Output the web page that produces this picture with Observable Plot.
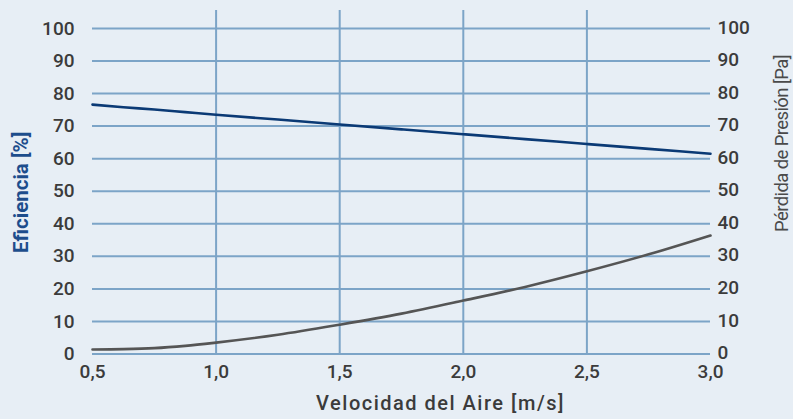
<!DOCTYPE html>
<html><head><meta charset="utf-8">
<script src="https://cdn.jsdelivr.net/npm/d3@7"></script>
<script src="https://cdn.jsdelivr.net/npm/@observablehq/plot@0.6"></script>
<style>
html,body{margin:0;padding:0;background:#e7eef5;}
#chart svg{display:block;}
</style>
</head><body><div id="chart"></div>
<script>
const velocity = [0.5, 0.625, 0.75, 0.875, 1.0, 1.25, 1.5, 1.75, 2.0, 2.25, 2.5, 2.75, 3.0];
const efficiency = [76.6, 75.8, 75.1, 74.3, 73.5, 72.0, 70.5, 69.0, 67.5, 66.0, 64.5, 63.0, 61.5];
const pressure = [1.4, 1.5, 1.8, 2.5, 3.5, 5.9, 9.0, 12.4, 16.4, 20.6, 25.4, 30.6, 36.4];
const xTicks = [0.5, 1.0, 1.5, 2.0, 2.5, 3.0];
const xGrid = [1.0, 1.5, 2.0, 2.5];
const yTicks = [0, 10, 20, 30, 40, 50, 60, 70, 80, 90, 100];
const xTitle = "Velocidad del Aire [m/s]";
const yLeftTitle = "Eficiencia [%]";
const yRightTitle = "Pérdida de Presión [Pa]";

const effData = velocity.map((v, i) => ({v, y: efficiency[i]}));
const presData = velocity.map((v, i) => ({v, y: pressure[i]}));
const fmt = d => d.toFixed(1).replace(".", ",");
const font = "Roboto, 'DejaVu Sans', sans-serif";

const chart = Plot.plot({
  width: 793, height: 419,
  marginLeft: 92, marginRight: 83, marginTop: 10, marginBottom: 65.5,
  style: {background: "#e7eef5", fontFamily: font, fontSize: "18px", color: "#3b3b3b", fontWeight: 500},
  x: {domain: [0.5, 3.0]},
  y: {domain: [0, 105.5]},
  marks: [
    Plot.ruleY(yTicks, {stroke: "#7ca4c7", strokeWidth: 2, x1: 0.5, x2: 3.0}),
    Plot.ruleX(xGrid, {stroke: "#7ca4c7", strokeWidth: 2}),
    Plot.axisX(xTicks, {tickSize: 0, tickPadding: 10, tickFormat: fmt, fontSize: 19, fill: "#3b3b3b", label: null}),
    Plot.axisY(yTicks, {anchor: "left", tickSize: 0, tickPadding: 18, fontSize: 19, fill: "#3b3b3b", label: null}),
    Plot.axisY(yTicks, {anchor: "right", tickSize: 0, tickPadding: 7, dy: -1, fontSize: 19, fill: "#3b3b3b", label: null}),
    Plot.text([xTitle], {text: d => d, frameAnchor: "bottom", dx: 39, dy: 55.5, fontSize: 20, fill: "#3b3b3b", textAnchor: "middle"}),
    Plot.text([yLeftTitle], {text: d => d, frameAnchor: "left", dx: -71, dy: 10, rotate: -90, fontSize: 20.5, fill: "#1d4d8c", textAnchor: "middle", fontWeight: 700}),
    Plot.text([yRightTitle], {text: d => d, frameAnchor: "right", dx: 72, dy: -38.75, rotate: -90, fontSize: 17, fill: "#4a4a4a", textAnchor: "middle", fontWeight: 500}),
    Plot.line(presData, {x: "v", y: "y", stroke: "#555555", strokeWidth: 2.6, curve: "monotone-x"}),
    Plot.line(effData, {x: "v", y: "y", stroke: "#0b3a75", strokeWidth: 2.6, curve: "monotone-x"})
  ]
});
document.getElementById("chart").appendChild(chart);
const sel = d3.select(chart).selectAll("text");
sel.filter(function() { return d3.select(this).text() === xTitle; }).style("letter-spacing", "1.5px");
sel.filter(function() { return d3.select(this).text() === yRightTitle; })
  .style("font-size", "18.5px").style("letter-spacing", "-0.6px").style("font-weight", "400");
</script>
</body></html>
